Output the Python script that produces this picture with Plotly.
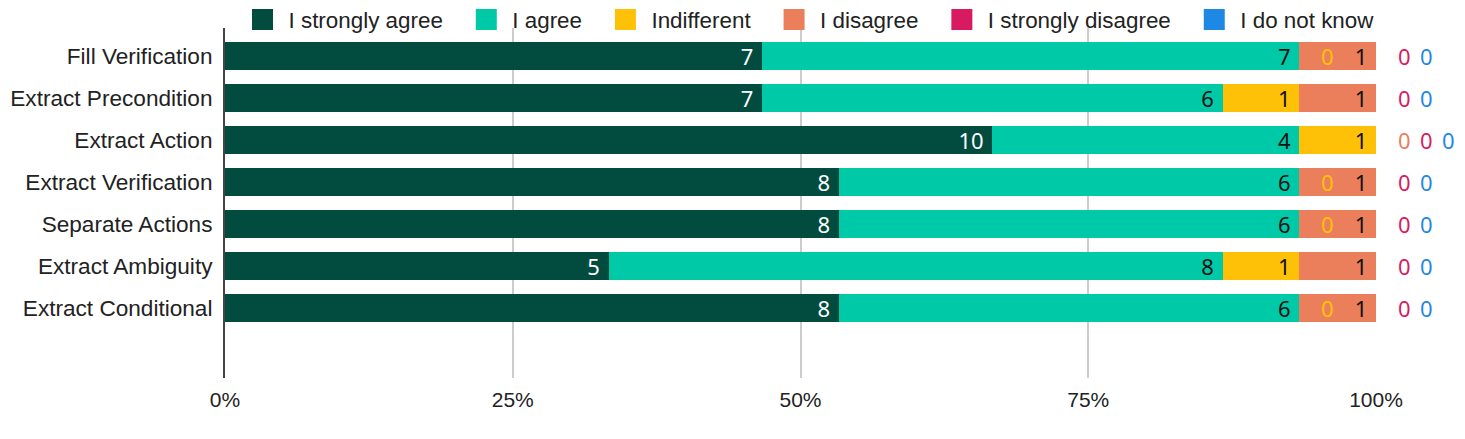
import plotly.graph_objects as go

categories = ["Fill Verification", "Extract Precondition", "Extract Action",
              "Extract Verification", "Separate Actions", "Extract Ambiguity",
              "Extract Conditional"]
series_names = ["I strongly agree", "I agree", "Indifferent", "I disagree",
                "I strongly disagree", "I do not know"]
strongly_agree = [7, 7, 10, 8, 8, 5, 8]
agree = [7, 6, 4, 6, 6, 8, 6]
indifferent = [0, 1, 1, 0, 0, 1, 0]
disagree = [1, 1, 0, 1, 1, 1, 1]
strongly_disagree = [0, 0, 0, 0, 0, 0, 0]
do_not_know = [0, 0, 0, 0, 0, 0, 0]
x_ticks = [0, 25, 50, 75, 100]
x_tick_labels = ["0%", "25%", "50%", "75%", "100%"]

series_values = [strongly_agree, agree, indifferent, disagree,
                 strongly_disagree, do_not_know]
colors = ["#024B3F", "#00C9A7", "#FFC107", "#EB7F5B", "#D81B60", "#1E88E5"]
text_colors = ["#FFFFFF", "#111111", "#111111", "#111111", "#111111", "#111111"]

LABEL_FONT = "Liberation Sans"
VALUE_FONT = "Noto Sans"
PAD = "\u00a0\u00a0"
fig = go.Figure()

for name, vals, col, tcol in zip(series_names, series_values, colors, text_colors):
    fig.add_trace(go.Bar(
        y=categories, x=vals, name=name, orientation="h",
        marker=dict(color=col, line=dict(width=0)),
        text=[str(v) + "\u00a0" if v else "" for v in vals],
        texttemplate="%{text}",
        textposition="inside", insidetextanchor="end", textangle=0,
        textfont=dict(family=VALUE_FONT, size=22, color=tcol),
        constraintext="none",
        showlegend=False, hoverinfo="skip",
    ))
    fig.add_trace(go.Scatter(
        x=[None], y=[None], mode="markers", name=name + PAD,
        marker=dict(symbol="square", size=16, color=col,
                    line=dict(color=col, width=5)),
        showlegend=True, hoverinfo="skip",
    ))

# zero-value labels, placed after the bar position, stacked side by side
annotations = []
for i, cat in enumerate(categories):
    total = sum(s[i] for s in series_values)
    cum = 0
    pos_count = {}
    for vals, col in zip(series_values, colors):
        v = vals[i]
        if v == 0:
            pct = cum / total * 100
            key = round(pct, 6)
            k = pos_count.get(key, 0)
            pos_count[key] = k + 1
            annotations.append(dict(
                x=pct, y=cat, xref="x", yref="y", text="0", showarrow=False,
                xshift=28 + 22 * k, xanchor="center",
                font=dict(family=VALUE_FONT, size=22, color=col)))
        cum += v

fig.update_layout(
    barmode="stack", barnorm="percent", bargap=0.333,
    width=1449, height=423,
    margin=dict(l=217, r=81, t=20, b=53, autoexpand=False),
    paper_bgcolor="white", plot_bgcolor="white",
    font=dict(family=LABEL_FONT, size=21, color="#222222"),
    legend=dict(orientation="h", traceorder="normal",
                x=0.01, xanchor="left", xref="paper",
                y=1.023, yanchor="middle",
                font=dict(family=LABEL_FONT, size=22.4, color="#222222"),
                itemsizing="trace", itemwidth=42,
                bgcolor="rgba(0,0,0,0)"),
    xaxis=dict(range=[0, 100], tickvals=x_ticks, ticktext=x_tick_labels,
               showgrid=True, gridcolor="#CCCCCC", gridwidth=1.5,
               zeroline=False, showline=False, ticks="",
               ticklabelstandoff=7,
               tickfont=dict(family=LABEL_FONT, size=21, color="#222222"),
               fixedrange=True),
    yaxis=dict(categoryorder="array", categoryarray=categories,
               range=[len(categories) - 1 + 1.67, -0.67],
               showline=True, linecolor="#444444", linewidth=2,
               showgrid=False, ticks="", ticklabelstandoff=6,
               tickfont=dict(family=LABEL_FONT, size=22.6, color="#222222"),
               fixedrange=True),
    annotations=annotations,
)

fig.write_html("out.html")
